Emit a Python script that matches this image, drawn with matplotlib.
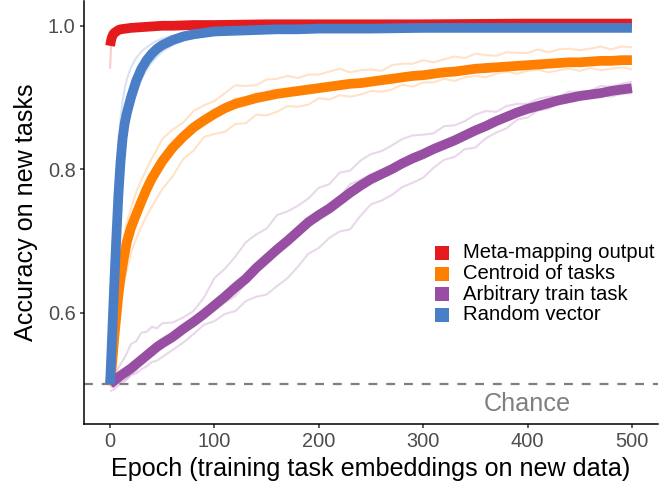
import numpy as np
import matplotlib
matplotlib.use("Agg")
import matplotlib.pyplot as plt
from matplotlib.patches import Rectangle

plt.rcParams['font.family'] = ['Liberation Sans', 'DejaVu Sans']

# ---------------- data (accuracy in thousandths) ----------------
labels = ["Meta-mapping output", "Centroid of tasks", "Arbitrary train task", "Random vector"]
colors = ["#E41A1C", "#FF7F00", "#984EA3", "#4A7FC8"]

# Meta-mapping output
red_epochs = [0, 1, 2, 3, 4, 6, 8, 10, 15, 20, 30, 40, 50, 60, 80, 100, 150, 200, 300, 400, 500]
red_mean = [972, 980, 985, 988, 990, 992, 994, 995, 996, 997, 998, 999, 1000, 1000, 1001, 1001, 1002, 1002, 1002, 1003, 1003]
red_runs = [
    [940, 975, 984, 987, 989, 991, 993, 994, 996, 997, 998, 999, 1000, 1000, 1001, 1001, 1002, 1002, 1002, 1003, 1003],
    [985, 988, 990, 991, 992, 994, 995, 996, 997, 998, 999, 1000, 1001, 1001, 1002, 1002, 1003, 1003, 1004, 1004, 1004],
    [990, 992, 993, 994, 995, 996, 997, 997, 998, 998, 999, 1000, 1000, 1001, 1001, 1002, 1002, 1002, 1003, 1003, 1003],
]

# Centroid of tasks
orange_epochs = [0, 2, 4, 6, 8, 10, 13, 16, 20, 25, 30, 35, 40, 45, 50,
                 60, 70, 80, 90, 100, 110, 120, 130, 140, 150, 160, 170, 180, 190, 200,
                 210, 220, 230, 240, 250, 260, 270, 280, 290, 300, 310, 320, 330, 340, 350,
                 360, 370, 380, 390, 400, 410, 420, 430, 440, 450, 460, 470, 480, 490, 500]
orange_mean = [500, 530, 565, 595, 625, 648, 675, 698, 718, 737, 755, 772, 787, 799, 811,
               830, 845, 858, 868, 877, 885, 891, 895, 899, 902, 905, 907, 909, 911, 913,
               915, 917, 919, 920, 922, 924, 926, 928, 930, 931, 933, 935, 936, 938, 940,
               941, 942, 943, 944, 945, 946, 947, 948, 949, 949, 950, 951, 951, 952, 952]
orange_runs = [
    [500, 545, 590, 625, 655, 680, 705, 725, 745, 768, 785, 800, 815, 828, 842,
     855, 865, 881, 889, 895, 906, 917, 916, 917, 925, 926, 930, 927, 932, 932,
     936, 940, 935, 938, 939, 937, 945, 947, 947, 952, 949, 953, 957, 955, 961,
     959, 958, 963, 962, 962, 967, 963, 967, 968, 966, 968, 971, 967, 971, 970],
    [497, 520, 545, 570, 595, 615, 640, 660, 683, 703, 720, 735, 748, 760, 772,
     790, 814, 826, 845, 849, 852, 863, 864, 876, 875, 880, 888, 887, 890, 899,
     897, 903, 901, 904, 909, 908, 911, 918, 915, 921, 921, 926, 923, 928, 930,
     928, 933, 936, 933, 937, 939, 935, 938, 940, 937, 941, 938, 940, 942, 939],
    [500, 525, 560, 590, 620, 645, 675, 700, 720, 735, 750, 765, 785, 797, 810,
     833, 852, 860, 873, 877, 888, 899, 900, 906, 905, 907, 911, 908, 913, 910,
     914, 913, 918, 915, 920, 922, 920, 926, 925, 929, 931, 929, 934, 933, 937,
     935, 939, 937, 941, 943, 942, 946, 944, 947, 948, 946, 950, 948, 951, 950],
]

# Arbitrary train task
purple_epochs = [0, 5, 10, 15, 20, 25, 30, 35, 40, 45, 50,
                 60, 70, 80, 90, 100, 110, 120, 130, 140, 150, 160, 170, 180, 190, 200,
                 210, 220, 230, 240, 250, 260, 270, 280, 290, 300, 310, 320, 330, 340, 350,
                 360, 370, 380, 390, 400, 410, 420, 430, 440, 450, 460, 470, 480, 490, 500]
purple_mean = [500, 506, 512, 517, 522, 528, 534, 540, 546, 552, 557,
               566, 577, 587, 598, 610, 622, 635, 647, 662, 675, 688, 700, 713, 726, 736,
               745, 756, 767, 777, 786, 793, 800, 808, 815, 821, 828, 834, 840, 847, 854,
               860, 867, 873, 879, 884, 888, 892, 896, 899, 902, 904, 906, 909, 911, 913]
purple_runs = [
    [500, 515, 528, 540, 556, 560, 572, 573, 580, 578, 585,
     586, 593, 602, 621, 648, 661, 678, 698, 709, 717, 736, 741, 749, 759, 774,
     779, 795, 798, 812, 821, 825, 833, 842, 847, 848, 850, 860, 861, 867, 876,
     881, 880, 888, 891, 891, 898, 901, 901, 908, 908, 909, 916, 915, 919, 922],
    [496, 499, 504, 507, 513, 515, 521, 525, 531, 533, 538,
     548, 558, 570, 583, 588, 598, 602, 616, 622, 625, 637, 648, 664, 682, 690,
     704, 713, 716, 735, 751, 756, 764, 775, 781, 788, 802, 813, 817, 828, 830,
     843, 851, 857, 869, 872, 882, 884, 893, 897, 902, 900, 904, 901, 905, 906],
    [490, 494, 501, 505, 514, 519, 531, 537, 549, 555, 561,
     567, 581, 585, 593, 603, 614, 623, 641, 654, 673, 689, 706, 717, 729, 736,
     749, 761, 779, 785, 793, 796, 803, 810, 821, 825, 831, 835, 844, 849, 858,
     861, 869, 873, 881, 886, 892, 892, 897, 898, 903, 904, 908, 909, 913, 913],
]

# Random vector
blue_epochs = [0, 2, 4, 6, 8, 10, 12, 14, 16, 20, 25, 30, 35, 40, 45, 50,
               60, 70, 80, 90, 100, 120, 140, 160, 180, 200, 250, 300, 350, 400, 450, 500]
blue_mean = [500, 570, 640, 705, 765, 810, 843, 864, 878, 900, 923, 940, 952, 961, 968, 973,
             980, 985, 988, 990, 992, 993, 994, 995, 995, 996, 996, 997, 997, 997, 997, 997]
blue_runs = [
    [500, 600, 690, 770, 830, 870, 895, 912, 925, 942, 955, 964, 970, 975, 979, 982,
     986, 989, 991, 992, 993, 994, 995, 995, 996, 996, 997, 997, 998, 998, 998, 998],
    [500, 552, 615, 672, 730, 775, 810, 836, 855, 882, 907, 925, 939, 949, 957, 964,
     973, 979, 983, 986, 988, 991, 993, 994, 995, 995, 996, 996, 996, 997, 997, 997],
    [500, 565, 625, 685, 745, 795, 834, 857, 870, 893, 918, 937, 950, 959, 966, 972,
     979, 983, 987, 989, 991, 993, 994, 995, 995, 996, 996, 997, 997, 997, 997, 997],
]

x_ticks = [0, 100, 200, 300, 400, 500]
y_ticks = [0.6, 0.8, 1.0]
chance_level = 0.5

groups = [
    (red_epochs, red_mean, red_runs),
    (orange_epochs, orange_mean, orange_runs),
    (purple_epochs, purple_mean, purple_runs),
    (blue_epochs, blue_mean, blue_runs),
]

# ---------------- figure ----------------
W, H = 659, 491
fig = plt.figure(figsize=(W / 100, H / 100), dpi=100)
ax = fig.add_axes([84 / W, 1 - 424 / H, (658 - 84) / W, 423 / H])
ax.set_xlim(-25, 525)
ax.set_ylim(0.4445, 1.0345)

ax.axhline(chance_level, color="#7F7F7F", lw=1.6, dashes=(4, 4), zorder=1)
ax.text(400, 0.472, "Chance", color="#7F7F7F", fontsize=18.2, ha="center", va="center")

# individual runs
for (ep, mean, runs), c in zip(groups, colors):
    for r in runs:
        ax.plot(ep, np.array(r) / 1000, color=c, lw=1.5, alpha=0.22,
                solid_capstyle="butt", zorder=2)
# averages
for (ep, mean, runs), c in zip(groups, colors):
    ax.plot(ep, np.array(mean) / 1000, color=c, lw=7.0,
            solid_capstyle="butt", solid_joinstyle="round", zorder=3)

for s in ["top", "right"]:
    ax.spines[s].set_visible(False)
for s in ["left", "bottom"]:
    ax.spines[s].set_linewidth(1.1)
    ax.spines[s].set_color("black")

ax.set_xticks(x_ticks)
ax.set_yticks(y_ticks)
ax.set_yticklabels([f"{v:.1f}" for v in y_ticks])
ax.tick_params(direction="out", length=3, width=1.1, color="#333333",
               labelcolor="#4D4D4D", labelsize=14.4, pad=3)

ax.set_xlabel("Epoch (training task embeddings on new data)", fontsize=18.1, labelpad=4)
ax.set_ylabel("Accuracy on new tasks", fontsize=18.1, labelpad=7)

# legend with square keys
row_y = [253, 273.5, 294, 314.5]
for lab, c, yy in zip(labels, colors, row_y):
    fig.patches.append(Rectangle((435 / W, 1 - (yy + 7) / H), 14 / W, 14 / H,
                                 transform=fig.transFigure, facecolor=c,
                                 edgecolor="none"))
    fig.text(463 / W, 1 - yy / H, lab, fontsize=14.6, ha="left", va="center", color="black")

fig.savefig("out.png", dpi=100)
